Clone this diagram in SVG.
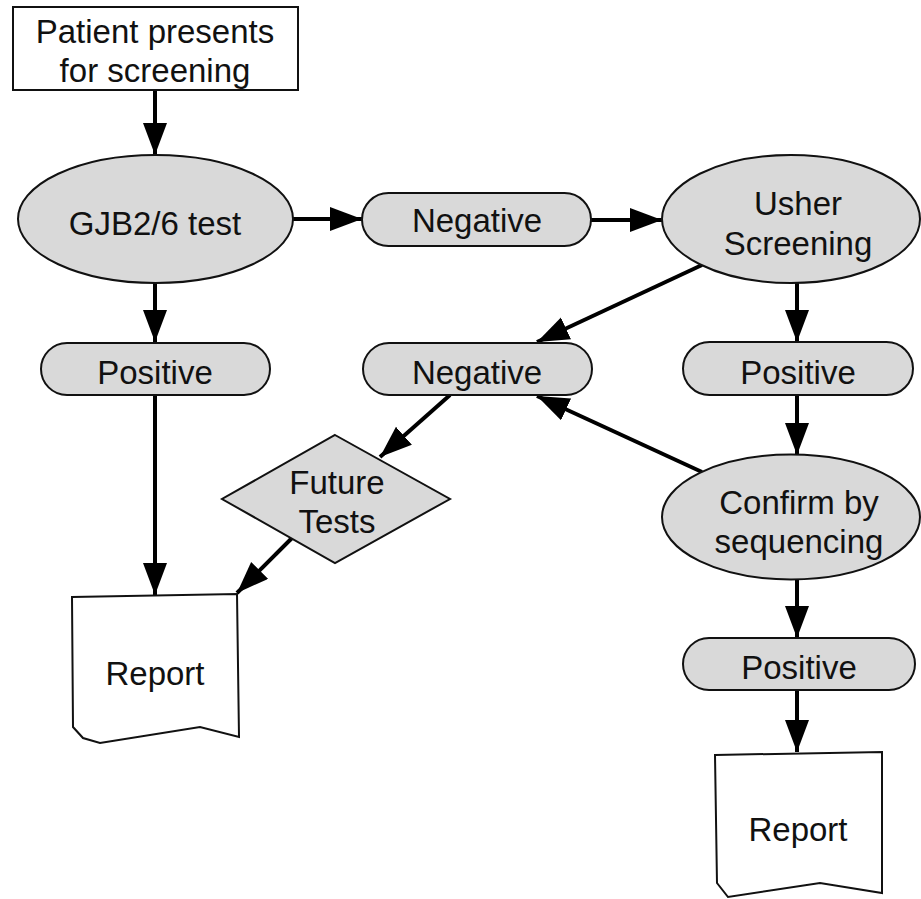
<svg xmlns="http://www.w3.org/2000/svg" width="921" height="899" viewBox="0 0 921 899">
<style>
.shape{fill:#d9d9d9;stroke:#111;stroke-width:2}
.white{fill:#fff;stroke:#111;stroke-width:2}
text{font-family:"Liberation Sans",Arial,Helvetica,sans-serif;font-size:33px;fill:#111;text-anchor:middle}
.conn line{stroke:#000;stroke-width:4;marker-end:url(#ah)}
</style>
<defs>
<marker id="ah" markerUnits="userSpaceOnUse" markerWidth="34" markerHeight="26" refX="32" refY="12" orient="auto">
<path d="M0,0 L32,12 L0,24 z" fill="#000"/>
</marker>
</defs>
<rect width="921" height="899" fill="#fff"/>
<g id="connectors" class="conn">
<line x1="155" y1="90" x2="155" y2="155"/>
<line x1="293" y1="219" x2="362" y2="219"/>
<line x1="591" y1="220" x2="662" y2="220"/>
<line x1="155" y1="283" x2="155" y2="342"/>
<line x1="797" y1="283" x2="797" y2="342"/>
<line x1="702" y1="265" x2="537" y2="342"/>
<line x1="797" y1="395" x2="797" y2="455"/>
<line x1="702" y1="472" x2="537" y2="396"/>
<line x1="155" y1="395" x2="155" y2="595"/>
<line x1="450" y1="395" x2="380" y2="457"/>
<line x1="292" y1="538" x2="237" y2="593"/>
<line x1="797" y1="580" x2="797" y2="638"/>
<line x1="797" y1="690" x2="797" y2="752"/>
</g>
<g id="start">
<rect class="white" x="13" y="7" width="285" height="83"/>
<text x="155" y="43">Patient presents</text>
<text x="155" y="82">for screening</text>
</g>
<g id="gjb">
<ellipse class="shape" cx="155.5" cy="219" rx="137.5" ry="64"/>
<text x="155" y="235">GJB2/6 test</text>
</g>
<g id="neg1">
<rect class="shape" x="362" y="193" width="229" height="53" rx="26.5"/>
<text x="477" y="232">Negative</text>
</g>
<g id="usher">
<ellipse class="shape" cx="791" cy="219" rx="129" ry="64"/>
<text x="798" y="215">Usher</text>
<text x="798" y="255">Screening</text>
</g>
<g id="pos1">
<rect class="shape" x="41" y="343" width="229" height="52" rx="26"/>
<text x="155" y="384">Positive</text>
</g>
<g id="neg2">
<rect class="shape" x="363" y="343" width="229" height="52" rx="26"/>
<text x="477" y="384">Negative</text>
</g>
<g id="pos2">
<rect class="shape" x="683" y="342" width="230" height="53" rx="26.5"/>
<text x="798" y="384">Positive</text>
</g>
<g id="future">
<polygon class="shape" points="335,435 450,499 335,563 222,499"/>
<text x="337" y="494">Future</text>
<text x="337" y="533">Tests</text>
</g>
<g id="confirm">
<ellipse class="shape" cx="791" cy="517" rx="129" ry="62.5"/>
<text x="799" y="514">Confirm by</text>
<text x="799" y="553">sequencing</text>
</g>
<g id="pos3">
<rect class="shape" x="683" y="638" width="232" height="52" rx="26"/>
<text x="799" y="679">Positive</text>
</g>
<g id="report1">
<path class="white" d="M72,597 L237,594 L239,737 L200,727 L100,743 L83,738 L73,727 Z"/>
<text x="155" y="685">Report</text>
</g>
<g id="report2">
<path class="white" d="M715,755 L882,752 L882,893 L820,883 L728,897 L717,883 Z"/>
<text x="798" y="841">Report</text>
</g>
</svg>
